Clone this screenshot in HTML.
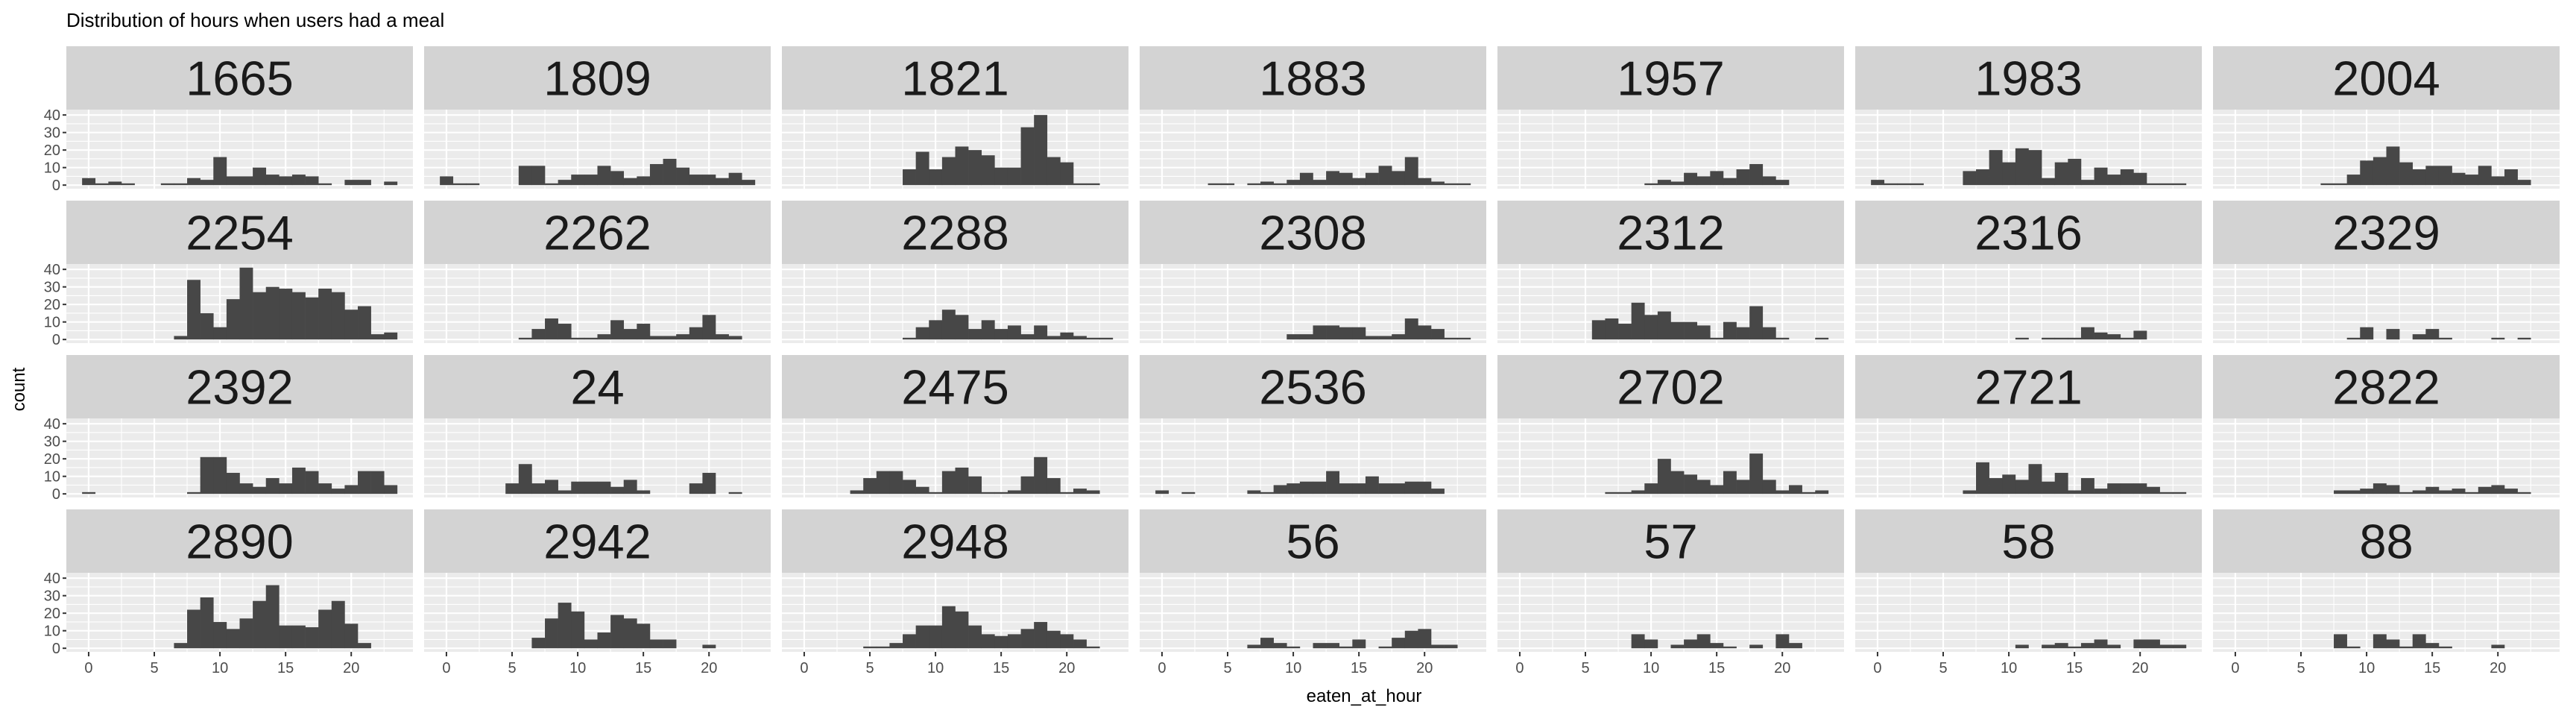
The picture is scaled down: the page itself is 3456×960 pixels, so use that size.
<!DOCTYPE html>
<html><head><meta charset="utf-8">
<style>
html,body{margin:0;padding:0;background:#fff;}
svg{display:block;font-family:"Liberation Sans",Arial,sans-serif;}
</style></head>
<body>
<svg id="chart" width="3456" height="960" viewBox="0 0 3456 960" xmlns="http://www.w3.org/2000/svg">
<text x="89" y="36" font-size="26" fill="#000">Distribution of hours when users had a meal</text>
<text x="0" y="0" font-size="24" fill="#000" text-anchor="middle" transform="translate(33,522) rotate(-90)">count</text>
<text x="1830" y="941" font-size="24" fill="#000" text-anchor="middle">eaten_at_hour</text>
<g id="panels"></g>
</svg>
<script>
const panelIds = ["1665","1809","1821","1883","1957","1983","2004",
"2254","2262","2288","2308","2312","2316","2329",
"2392","24","2475","2536","2702","2721","2822",
"2890","2942","2948","56","57","58","88"];
const hours = [0,1,2,3,4,5,6,7,8,9,10,11,12,13,14,15,16,17,18,19,20,21,22,23];
const counts = [
[4,1,2,1,0,0,1,1,4,3,16,5,5,10,6,5,6,5,1,0,3,3,0,2],
[5,1,1,0,0,0,11,11,1,3,6,6,11,8,4,5,12,15,10,6,6,4,7,3],
[0,0,0,0,0,0,0,0,9,19,9,16,22,20,17,10,10,33,40,16,13,1,1,0],
[0,0,0,0,1,1,0,1,2,1,3,7,3,8,7,4,7,11,8,16,4,2,1,1],
[0,0,0,0,0,0,0,0,0,0,1,3,2,7,5,8,4,9,12,5,3,0,0,0],
[3,1,1,1,0,0,0,8,9,20,13,21,20,4,13,15,3,10,6,9,7,1,1,1],
[0,0,0,0,0,0,0,1,1,6,14,16,22,13,9,11,11,7,6,11,5,9,3,0],
[0,0,0,0,0,0,0,2,34,15,7,23,41,27,30,29,27,24,29,27,17,19,3,4],
[0,0,0,0,0,0,1,6,12,9,1,1,3,11,6,9,2,2,3,7,14,3,2,0],
[0,0,0,0,0,0,0,0,1,7,11,17,14,6,11,6,8,3,8,2,4,2,1,1],
[0,0,0,0,0,0,0,0,0,0,3,3,8,8,7,7,2,2,3,12,8,6,1,1],
[0,0,0,0,0,0,11,12,9,21,14,16,10,10,8,1,10,7,19,7,1,0,0,1],
[0,0,0,0,0,0,0,0,0,0,0,1,0,1,1,1,7,4,3,1,5,0,0,0],
[0,0,0,0,0,0,0,0,0,1,7,0,6,0,3,6,1,0,0,0,1,0,1,0],
[1,0,0,0,0,0,0,0,1,21,21,12,6,4,9,6,15,13,6,3,5,13,13,5],
[0,0,0,0,0,6,17,6,8,2,7,7,7,4,8,2,0,0,0,6,12,0,1,0],
[0,0,0,0,2,9,13,13,8,4,1,13,15,10,1,1,2,10,21,9,1,3,2,0],
[2,0,1,0,0,0,0,2,1,5,6,7,7,13,6,6,10,6,6,7,7,3,0,0],
[0,0,0,0,0,0,0,1,1,2,6,20,13,11,8,5,13,8,23,8,2,5,1,2],
[0,0,0,0,0,0,0,2,18,9,11,8,17,7,12,2,9,3,6,6,6,4,1,1],
[0,0,0,0,0,0,0,0,2,2,3,6,5,1,2,4,2,3,1,4,5,3,1,0],
[0,0,0,0,0,0,0,3,22,29,15,11,17,27,36,13,13,12,22,27,14,3,0,0],
[0,0,0,0,0,0,0,6,17,26,21,5,9,19,17,14,5,5,0,0,2,0,0,0],
[0,0,0,0,0,1,1,3,8,13,13,24,21,13,8,7,8,11,15,10,8,5,1,0],
[0,0,0,0,0,0,0,2,6,3,1,0,3,3,1,5,0,1,6,10,11,2,2,0],
[0,0,0,0,0,0,0,0,0,8,5,0,2,5,8,3,1,0,2,0,8,3,0,0],
[0,0,0,0,0,0,0,0,0,0,0,2,0,2,3,1,3,5,2,0,5,5,2,2],
[0,0,0,0,0,0,0,0,8,1,0,8,5,1,8,3,1,0,0,0,2,0,0,0]
];
const xTicks = [0,5,10,15,20];
const xMinor = [2.5,7.5,12.5,17.5,22.5];
const yTicks = [0,10,20,30,40];
const yMinor = [5,15,25,35];

const NS = "http://www.w3.org/2000/svg";
const root = document.getElementById("panels");
const COLS = 7, PW = 465, PH = 106, SH = 85, X0 = 89, Y0 = 62, DX = 480, DY = 207;
const XMIN = -1.7, XMAX = 24.7, YMIN = -2.05, YMAX = 43.05;
function mk(tag, attrs, parent){const e=document.createElementNS(NS,tag);for(const k in attrs)e.setAttribute(k,attrs[k]);parent.appendChild(e);return e;}
function sx(left,v){return left + (v - XMIN) / (XMAX - XMIN) * PW;}
function sy(top,v){return top + PH - (v - YMIN) / (YMAX - YMIN) * PH;}

panelIds.forEach((id, i) => {
  const c = i % COLS, r = Math.floor(i / COLS);
  const left = X0 + c * DX, stripTop = Y0 + r * DY, top = stripTop + SH;
  const g = mk("g", {}, root);
  
  
  const strip = mk("rect", {x:left, y:stripTop, width:PW, height:SH, fill:"#D3D3D3"}, g);
  
  
  const st = mk("text", {x:left + PW/2, y:stripTop + SH/2 + 23, "font-size":65, "text-anchor":"middle", fill:"#1A1A1A"}, g);
  st.textContent = id;
  
  
  const bg = mk("rect", {x:left, y:top, width:PW, height:PH, fill:"#EBEBEB"}, g);
  
  
  yMinor.forEach(v => mk("line", {x1:left, x2:left+PW, y1:sy(top,v), y2:sy(top,v), stroke:"#fff", "stroke-width":1.1}, g));
  xMinor.forEach(v => mk("line", {x1:sx(left,v), x2:sx(left,v), y1:top, y2:top+PH, stroke:"#fff", "stroke-width":1.1}, g));
  yTicks.forEach(v => mk("line", {x1:left, x2:left+PW, y1:sy(top,v), y2:sy(top,v), stroke:"#fff", "stroke-width":2.2}, g));
  xTicks.forEach(v => mk("line", {x1:sx(left,v), x2:sx(left,v), y1:top, y2:top+PH, stroke:"#fff", "stroke-width":2.2}, g));
  counts[i].forEach((v, k) => {
    if (v <= 0) return;
    const h = hours[k];
    const x1 = sx(left, h - 0.5), x2 = sx(left, h + 0.5);
    const y1 = sy(top, v), y2 = sy(top, 0);
    const b = mk("rect", {x:x1, y:y1, width:x2 - x1 + 0.3, height:y2 - y1, fill:"#474747"}, g);
    
    
  });
  if (c === 0) {
    yTicks.forEach(v => {
      const y = sy(top, v);
      mk("line", {x1:left-5, x2:left, y1:y, y2:y, stroke:"#333", "stroke-width":2}, g);
      const t = mk("text", {x:left-8, y:y+7, "font-size":20, "text-anchor":"end", fill:"#4D4D4D"}, g);
      t.textContent = v;
      
      
    });
  }
  if (r === 3) {
    xTicks.forEach(v => {
      const x = sx(left, v);
      mk("line", {x1:x, x2:x, y1:top+PH, y2:top+PH+6, stroke:"#333", "stroke-width":2}, g);
      const t = mk("text", {x:x, y:top+PH+28, "font-size":20, "text-anchor":"middle", fill:"#4D4D4D"}, g);
      t.textContent = v;
      
      
    });
  }
});
</script>
</body></html>
